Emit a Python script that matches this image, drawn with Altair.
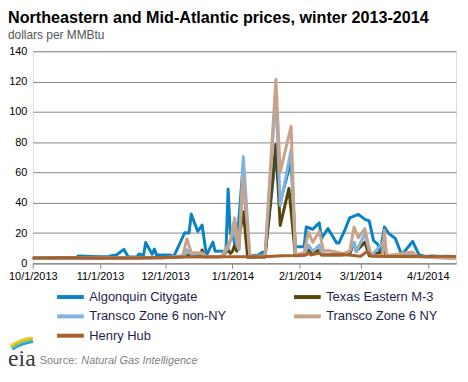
import altair as alt
import pandas as pd

FONT = "Liberation Sans"

series_names = ["Algonquin Citygate", "Texas Eastern M-3", "Transco Zone 6 non-NY",
                "Transco Zone 6 NY", "Henry Hub"]
series_colors = ["#0A83C2", "#5A4508", "#80B3E0", "#C9A28A", "#A8602A"]

algonquin_dates = ["2013-10-01", "2013-10-15", "2013-10-21", "2013-10-22", "2013-10-28",
    "2013-11-01", "2013-11-05", "2013-11-07", "2013-11-08", "2013-11-12", "2013-11-14", "2013-11-18",
    "2013-11-19", "2013-11-21", "2013-11-22", "2013-11-25", "2013-11-26", "2013-11-27",
    "2013-12-03", "2013-12-05", "2013-12-10", "2013-12-12", "2013-12-13", "2013-12-16", "2013-12-18",
    "2013-12-20", "2013-12-23", "2013-12-24", "2013-12-29", "2013-12-30", "2013-12-31",
    "2014-01-01", "2014-01-02", "2014-01-03", "2014-01-06", "2014-01-08", "2014-01-09", "2014-01-13",
    "2014-01-15", "2014-01-16", "2014-01-21", "2014-01-23", "2014-01-28", "2014-01-30",
    "2014-02-03", "2014-02-04", "2014-02-07", "2014-02-10", "2014-02-11", "2014-02-14", "2014-02-18",
    "2014-02-19", "2014-02-22", "2014-02-24", "2014-02-28",
    "2014-03-03", "2014-03-05", "2014-03-07", "2014-03-09", "2014-03-10", "2014-03-12", "2014-03-14",
    "2014-03-17", "2014-03-20", "2014-03-25", "2014-03-28", "2014-03-31",
    "2014-04-03", "2014-04-07", "2014-04-10", "2014-04-14"]
algonquin_values = [3.6, 3.7, 3.8, 4.8, 4.5,
    4.3, 4.6, 5.3, 5.0, 9.2, 4.2, 4.4, 6.2, 5.2, 13.8, 6.0, 9.4, 5.6,
    5.6, 4.6, 20.2, 20.0, 32.5, 21.0, 25.3, 5.3, 14.0, 8.0, 8.2, 49.0, 19.5,
    20.0, 13.0, 12.0, 66.0, 8.0, 5.0, 5.5, 7.5, 5.0, 72.0, 40.0, 68.0, 11.0,
    11.0, 24.0, 22.5, 26.8, 16.5, 23.0, 13.4, 13.4, 22.8, 30.0, 32.3,
    29.0, 28.0, 15.0, 12.5, 7.0, 24.0, 19.7, 16.5, 5.5, 14.5, 5.5, 4.6,
    4.8, 4.5, 4.7, 4.5]

texas_dates = ["2013-10-01", "2013-10-31", "2013-11-15", "2013-11-30",
    "2013-12-05", "2013-12-12", "2013-12-17", "2013-12-18", "2013-12-19", "2013-12-27", "2013-12-30",
    "2013-12-31", "2014-01-01", "2014-01-02", "2014-01-03", "2014-01-06", "2014-01-08", "2014-01-16",
    "2014-01-21", "2014-01-23", "2014-01-27", "2014-01-30",
    "2014-02-04", "2014-02-05", "2014-02-07", "2014-02-10", "2014-02-11", "2014-02-20", "2014-02-24",
    "2014-02-26", "2014-02-27", "2014-03-03", "2014-03-05", "2014-03-12", "2014-03-13", "2014-04-14"]
texas_values = [3.3, 3.4, 3.5, 3.7,
    4.0, 5.5, 4.5, 8.8, 4.3, 4.3, 9.0, 6.5,
    8.0, 12.0, 8.0, 34.0, 4.0, 4.2, 78.5, 25.0, 49.5, 5.0,
    6.0, 9.0, 6.0, 9.0, 5.5, 5.5, 6.0, 13.8, 8.0,
    14.0, 5.0, 8.0, 4.5, 4.3]

transco_nonny_dates = ["2013-10-01", "2013-10-31", "2013-11-30",
    "2013-12-10", "2013-12-11", "2013-12-13", "2013-12-18", "2013-12-20", "2013-12-27", "2013-12-30",
    "2013-12-31", "2014-01-02", "2014-01-03", "2014-01-04", "2014-01-06", "2014-01-09", "2014-01-16",
    "2014-01-21", "2014-01-23", "2014-01-28", "2014-01-30",
    "2014-02-03", "2014-02-04", "2014-02-05", "2014-02-07", "2014-02-10", "2014-02-11", "2014-02-21",
    "2014-02-24", "2014-02-26", "2014-02-27", "2014-03-03", "2014-03-05", "2014-03-06", "2014-03-12",
    "2014-03-13", "2014-03-25", "2014-03-27", "2014-04-07", "2014-04-14"]
transco_nonny_values = [3.4, 3.5, 3.7,
    5.0, 9.0, 6.0, 6.5, 4.3, 4.5, 10.0, 15.0,
    22.0, 12.0, 9.0, 70.5, 4.5, 4.5, 112.0, 38.0, 75.0, 5.0,
    5.0, 9.0, 12.0, 8.0, 12.0, 6.0, 6.0, 8.0, 13.8, 7.5,
    19.7, 8.0, 5.0, 15.0, 5.0, 6.0, 4.5, 4.0, 3.4]

transco_ny_dates = ["2013-10-01", "2013-10-31", "2013-11-30",
    "2013-12-09", "2013-12-11", "2013-12-13", "2013-12-18", "2013-12-20", "2013-12-27", "2013-12-29",
    "2013-12-31", "2014-01-02", "2014-01-04", "2014-01-06", "2014-01-09", "2014-01-16", "2014-01-21",
    "2014-01-23", "2014-01-28", "2014-01-30",
    "2014-02-03", "2014-02-05", "2014-02-07", "2014-02-10", "2014-02-12", "2014-02-14", "2014-02-21",
    "2014-02-24", "2014-02-26", "2014-02-28", "2014-03-03", "2014-03-05", "2014-03-06", "2014-03-11",
    "2014-03-12", "2014-03-13", "2014-03-25", "2014-03-27", "2014-04-07", "2014-04-14"]
transco_ny_values = [3.5, 3.6, 3.8,
    4.2, 16.3, 7.0, 7.0, 4.5, 4.5, 10.0, 14.5,
    30.0, 10.0, 56.5, 4.8, 5.0, 121.5, 60.0, 90.5, 5.5,
    7.0, 20.7, 14.0, 21.0, 8.0, 8.5, 6.5, 8.0, 24.0, 17.0,
    23.0, 10.0, 5.0, 5.0, 21.8, 5.0, 7.5, 4.5, 3.5, 3.2]

henry_dates = ["2013-10-01", "2013-10-15", "2013-10-31", "2013-11-15", "2013-11-30", "2013-12-10",
    "2013-12-31", "2014-01-15", "2014-01-24", "2014-01-31", "2014-02-04", "2014-02-05", "2014-02-06",
    "2014-02-10", "2014-02-11", "2014-02-20", "2014-02-26", "2014-03-01", "2014-03-04", "2014-03-06",
    "2014-03-15", "2014-04-14"]
henry_values = [3.5, 3.65, 3.55, 3.6, 3.8, 4.2, 4.3, 4.3, 5.0, 5.2, 5.5, 7.0, 5.5,
    6.8, 5.6, 5.8, 5.2, 4.6, 7.8, 4.6, 4.5, 4.6]

y_ticks = [0, 20, 40, 60, 80, 100, 120, 140]
tick_months = [(2013, 10), (2013, 11), (2013, 12), (2014, 1), (2014, 2), (2014, 3), (2014, 4)]

series_data = [
    (series_names[0], algonquin_dates, algonquin_values),
    (series_names[1], texas_dates, texas_values),
    (series_names[2], transco_nonny_dates, transco_nonny_values),
    (series_names[3], transco_ny_dates, transco_ny_values),
    (series_names[4], henry_dates, henry_values),
]
rows = []
for name, ds, vs in series_data:
    assert len(ds) == len(vs), name
    rows += [{"series": name, "date": d, "price": v} for d, v in zip(ds, vs)]
df = pd.DataFrame(rows)

x_enc = alt.X(
    "date:T",
    title=None,
    scale=alt.Scale(type="utc", domain=[alt.DateTime(year=2013, month=10, date=1, utc=True),
                                        alt.DateTime(year=2014, month=4, date=14, utc=True)]),
    axis=alt.Axis(values=[alt.DateTime(year=y, month=m, date=1, utc=True) for y, m in tick_months],
                  format="%-m/%-d/%Y", grid=False, domainColor="#868686", tickColor="#868686",
                  tickSize=5, labelFontSize=11, labelFont=FONT, labelColor="#000000",
                  labelPadding=2, labelFlush=False),
)
y_enc = alt.Y(
    "price:Q",
    title=None,
    scale=alt.Scale(domain=[0, 140], nice=False),
    axis=alt.Axis(values=y_ticks, grid=True, gridColor="#868686", gridWidth=1, domain=False,
                  ticks=False, tickSize=0, labelPadding=6, labelFontSize=11, labelFont=FONT,
                  labelColor="#000000"),
)
legend = alt.Legend(orient="none", legendX=29, legendY=239, columns=2, direction="horizontal",
                    columnPadding=59, rowPadding=2.5, symbolType="M-2,0H2", symbolSize=182,
                    symbolStrokeWidth=4, labelFontSize=13, labelFont=FONT, labelColor="#1e1e50",
                    labelOffset=10, title=None, padding=0, labelLimit=200)
color_scale = alt.Scale(domain=series_names, range=series_colors)

layers = []
for name in series_names:
    layers.append(
        alt.Chart(df).transform_filter(alt.datum.series == name)
        .mark_line(strokeWidth=3, strokeJoin="round")
        .encode(x=x_enc, y=y_enc, color=alt.Color("series:N", scale=color_scale, legend=legend))
    )

one = pd.DataFrame({"k": [0]})
source_label = alt.Chart(one).mark_text(text="Source:", align="left", baseline="alphabetic",
    fontSize=11, font=FONT, color="#7f7f7f").encode(x=alt.value(7), y=alt.value(316))
source_name = alt.Chart(one).mark_text(text="Natural Gas Intelligence", align="left",
    baseline="alphabetic", fontSize=11, font=FONT, fontStyle="italic", color="#7f7f7f"
    ).encode(x=alt.value(49), y=alt.value(316))
eia_text = alt.Chart(one).mark_text(text="eia", align="left", baseline="alphabetic",
    fontSize=24, font="Liberation Serif", color="#3c3c3c").encode(x=alt.value(-25), y=alt.value(318))
arcs = []
for r1, r2, col in [(43, 45.5, "#2A9FD8"), (45.5, 47.5, "#8DC63F"), (47.5, 49.5, "#F2C314")]:
    arcs.append(alt.Chart(one).mark_arc(radius=r2, radius2=r1, theta=5.67, theta2=6.18, color=col)
                .encode(x=alt.value(5), y=alt.value(337)))

chart = alt.layer(*layers, source_label, source_name, eia_text, *arcs).properties(
    width=427, height=214,
    padding={"left": 0, "top": 0, "right": 2, "bottom": 0},
    title=alt.TitleParams(
        text="Northeastern and Mid-Atlantic prices, winter 2013-2014",
        subtitle="dollars per MMBtu", anchor="start", frame="group", dx=-25, offset=4,
        fontSize=16.3, fontWeight="bold", font=FONT, color="#000000",
        subtitleFontSize=12, subtitleFont=FONT, subtitleColor="#555555", subtitlePadding=4,
    ),
).configure_view(stroke=None).configure(background="white")

chart.save("out.html", embed_options={"renderer": "svg", "actions": False})
